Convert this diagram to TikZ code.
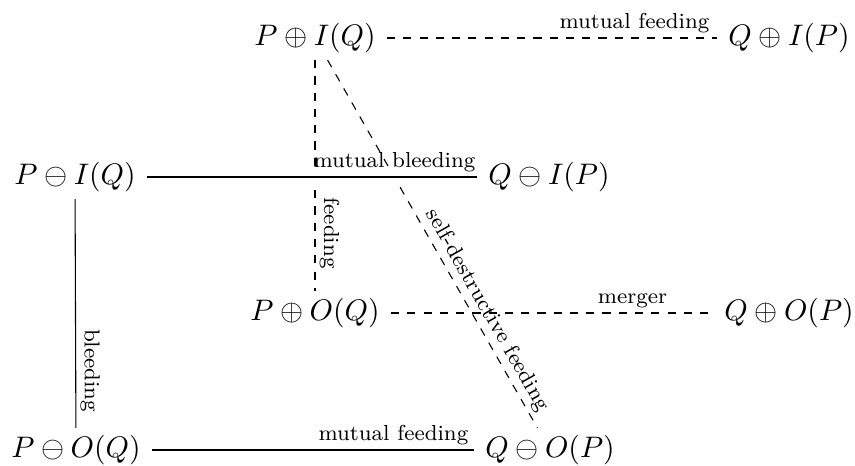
\documentclass[tikz,border=0pt]{standalone}
\begin{document}
\begin{tikzpicture}[x=0.369pt,y=-0.369pt,
  obj/.style={inner xsep=4pt, inner ysep=2.5pt, font=\fontsize{10.95}{13.6}\selectfont},
  lab/.style={font=\fontsize{8}{9.5}\selectfont, inner sep=1.5pt},
  dline/.style={dashed},
  crossover/.style={preaction={draw=white,line width=5pt}}]
\useasboundingbox (0,0) rectangle (855,466);
% nodes
\node[obj] (pi) at (315,38) {$P\oplus I(Q)$};
\node[obj] (qi) at (789,38) {$Q\oplus I(P)$};
\node[obj] (pmi) at (75,177) {$P\ominus I(Q)$};
\node[obj] (qmi) at (549,177) {$Q\ominus I(P)$};
\node[obj] (po) at (315,313) {$P\oplus O(Q)$};
\node[obj] (qo) at (789,313) {$Q\oplus O(P)$};
\node[obj] (pmo) at (76,450) {$P\ominus O(Q)$};
\node[obj] (qmo) at (550,450) {$Q\ominus O(P)$};
% edges
\draw[dline] (pi) -- node[lab, pos=0.75, above] {mutual feeding} (qi);
\draw[dline] (pi) -- node[lab, pos=0.75, above, sloped] {feeding} (po);
\draw[dline] (pi) -- node[lab, pos=0.7, above, sloped] {self-destructive feeding} (qmo);
\draw (pmi) -- node[lab, pos=0.75, above, sloped] {bleeding} (pmo);
\draw[dline] (po) -- node[lab, pos=0.75, above] {merger} (qo);
\draw[crossover] (pmi) -- node[lab, pos=0.75, above] {mutual bleeding} (qmi);
\draw (pmo) -- node[lab, pos=0.75, above] {mutual feeding} (qmo);
\end{tikzpicture}
\end{document}
